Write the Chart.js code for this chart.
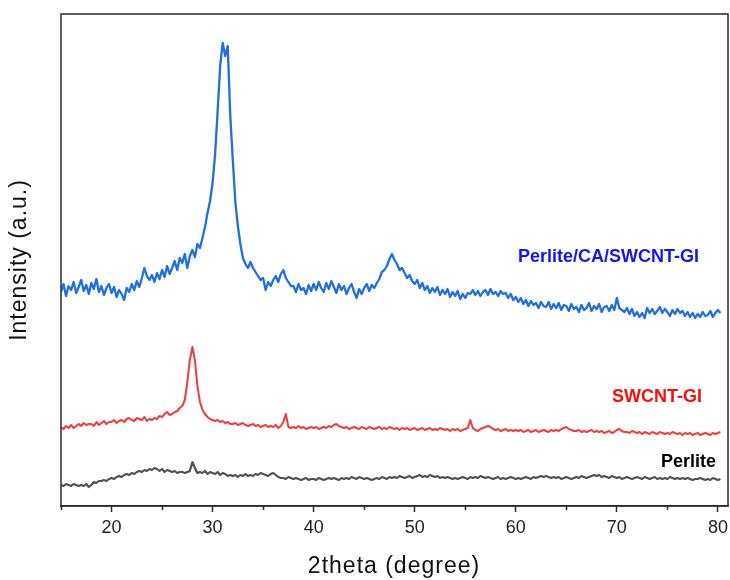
<!DOCTYPE html>
<html>
<head>
<meta charset="utf-8">
<script src="https://cdn.jsdelivr.net/npm/chart.js@4/dist/chart.umd.min.js"></script>
<style>
  html, body { margin: 0; padding: 0; background: #fff; }
  canvas { display: block; }
</style>
</head>
<body>
<canvas id="xrd" width="730" height="580"></canvas>
<script>
// scan range: 15 to 80.25 degrees, one reading every 0.25 degree
const scanStart = 15;
const scanStep = 0.25;

const compositeCounts = [
  214,222,210,220, 216,224,213,219, 226,215,221,212, 223,217,227,214,
  220,211,218,222, 213,219,209,216, 212,206,218,214, 222,216,225,219,
  228,238,230,226, 231,224,233,227, 236,229,240,232, 238,245,236,248,
  243,252,238,250, 256,249,262,258, 268,279,293,305, 323,352,395,440,
  463,450,460,390, 346,304,280,262, 248,242,238,244, 238,234,230,226,
  228,216,224,220, 226,230,224,232, 236,228,224,220, 220,214,222,216,
  218,212,221,215, 222,216,224,218, 214,223,217,225, 219,213,222,216,
  220,212,218,222, 214,208,217,212, 218,222,215,221, 218,223,227,234,
  236,240,247,252, 246,242,236,238, 233,228,231,225, 222,226,218,223,
  216,220,213,218, 214,219,211,216, 212,217,209,214, 210,215,207,212,
  208,213,212,216, 211,215,210,214, 216,211,217,212, 214,210,215,212,
  213,208,212,206, 209,204,208,202, 206,200,205,201, 203,198,204,200,
  199,204,197,202, 198,203,196,201, 200,195,202,197, 199,194,201,196,
  198,203,195,200, 197,202,194,199, 200,195,201,196, 208,198,196,194,
  198,192,197,190, 194,189,193,188, 198,193,197,192, 195,199,193,197,
  194,190,196,192, 197,193,195,190, 194,189,193,188, 192,189,194,190,
  191,195,189,193, 196,193
];

const swcntCounts = [
  79,77,80,78, 81,78,80,82, 80,83,81,82, 82,80,84,81,
  83,85,82,84, 84,86,83,85, 86,84,87,88, 86,85,88,87,
  86,89,85,87, 86,88,87,90, 89,92,94,91, 92,94,95,98,
  100,106,124,146, 159,146,120,104, 96,92,89,87, 86,85,86,84,
  85,83,84,82, 82,83,81,82, 83,81,80,81, 82,80,81,79,
  80,81,79,80, 79,81,78,80, 84,92,79,78, 79,78,80,78,
  79,77,78,79, 78,79,77,78, 79,78,80,79, 81,82,80,79,
  78,79,77,78, 79,78,77,79, 78,77,79,78, 77,78,79,77,
  78,77,79,78, 77,78,76,78, 77,78,76,77, 78,76,77,78,
  76,77,78,76, 77,76,78,77, 76,77,75,77, 76,77,75,76,
  77,78,86,78, 76,75,77,78, 79,80,79,77, 76,77,75,76,
  77,75,76,75, 76,75,76,74, 75,76,74,75, 76,74,75,76,
  75,74,76,75, 76,75,77,78, 79,77,76,75, 75,76,74,75,
  74,75,76,74, 75,74,75,73, 74,75,73,74, 76,77,75,74,
  74,73,75,74, 73,74,72,74, 73,72,74,73, 72,74,73,72,
  73,72,74,73, 72,73,71,73, 72,73,71,72, 73,71,72,73,
  72,71,73,72, 73,74
];

const perliteCounts = [
  21,20,22,21, 20,22,21,20, 21,20,22,19, 21,24,23,25,
  25,26,25,27, 28,27,29,30, 29,31,32,31, 33,32,34,35,
  34,36,35,37, 36,38,37,35, 37,34,36,35, 34,35,33,34,
  34,33,34,35, 44,38,33,34, 33,35,32,34, 33,32,34,31,
  33,32,30,31, 30,31,29,31, 30,32,30,31, 30,32,31,33,
  32,31,30,32, 33,31,29,28, 28,27,29,28, 27,28,27,26,
  27,28,26,27, 27,26,28,27, 26,27,28,27, 28,27,26,28,
  27,28,27,29, 28,27,29,28, 27,28,27,26, 27,28,27,29,
  28,27,29,28, 29,28,30,29, 28,29,30,28, 29,30,31,29,
  30,29,31,30, 29,30,28,29, 28,29,28,27, 28,27,28,29,
  28,27,29,28, 29,28,30,29, 28,29,28,27, 28,29,27,28,
  27,28,29,28, 27,28,27,28, 29,28,27,29, 28,29,30,29,
  30,29,28,29, 28,29,27,28, 29,28,27,28, 29,28,30,29,
  28,29,30,31, 30,31,29,30, 29,28,30,29, 28,29,27,28,
  29,28,27,28, 29,28,27,29, 28,27,28,29, 27,28,27,28,
  27,29,28,27, 28,27,28,27, 28,27,26,27, 27,28,27,26,
  27,26,28,27, 26,27
];

const xTicks = [20, 30, 40, 50, 60, 70, 80];
const xMinorTicks = [15, 25, 35, 45, 55, 65, 75];

const seriesLabels = [
  { text: 'Perlite/CA/SWCNT-GI', color: '#1414f0', x: 518, y: 257 },
  { text: 'SWCNT-GI', color: '#ff0a0a', x: 612, y: 397 },
  { text: 'Perlite', color: '#000000', x: 661, y: 462 }
];

function toPoints(values) {
  return values.map((v, i) => ({ x: scanStart + i * scanStep, y: v }));
}

const FONT = "'Liberation Sans', Arial, sans-serif";

const framePlugin = {
  id: 'frame',
  afterDraw(chart) {
    const { ctx, chartArea: a } = chart;
    const xs = chart.scales.x;
    ctx.save();
    // box around plot
    ctx.strokeStyle = '#2b2b2b';
    ctx.lineWidth = 1.5;
    ctx.strokeRect(a.left, a.top, a.right - a.left, a.bottom - a.top);
    // short minor ticks
    ctx.beginPath();
    xMinorTicks.forEach((t) => {
      const px = Math.round(xs.getPixelForValue(t)) + 0.5;
      ctx.moveTo(px, a.bottom);
      ctx.lineTo(px, a.bottom + 4);
    });
    ctx.stroke();

    // axis titles
    ctx.fillStyle = '#111';
    ctx.font = '23px ' + FONT;
    ctx.letterSpacing = '1px';
    ctx.textAlign = 'center';
    ctx.textBaseline = 'middle';
    ctx.fillText('2theta (degree)', 394, 567);
    ctx.save();
    ctx.translate(20, (a.top + a.bottom) / 2);
    ctx.rotate(-Math.PI / 2);
    ctx.fillText('Intensity (a.u.)', 0, 0);
    ctx.restore();

    // series names
    ctx.letterSpacing = '0px';
    ctx.font = 'bold 18px ' + FONT;
    ctx.textAlign = 'left';
    seriesLabels.forEach((l) => {
      ctx.fillStyle = l.color;
      ctx.fillText(l.text, l.x, l.y);
    });
    ctx.restore();
  }
};

new Chart(document.getElementById('xrd'), {
  type: 'line',
  data: {
    datasets: [
      { label: 'Perlite/CA/SWCNT-GI', data: toPoints(compositeCounts), borderColor: '#1e6fe0', borderWidth: 2.3 },
      { label: 'SWCNT-GI', data: toPoints(swcntCounts), borderColor: '#f03c3c', borderWidth: 2 },
      { label: 'Perlite', data: toPoints(perliteCounts), borderColor: '#505050', borderWidth: 2.2 }
    ]
  },
  options: {
    responsive: false,
    devicePixelRatio: 1,
    animation: false,
    parsing: false,
    layout: { padding: { left: 61, top: 14, right: 2, bottom: 0 } },
    elements: {
      point: { radius: 0 },
      line: { tension: 0, borderJoinStyle: 'round' }
    },
    plugins: {
      legend: { display: false },
      tooltip: { enabled: false }
    },
    scales: {
      x: {
        type: 'linear',
        min: 15,
        max: 81,
        afterFit(scale) {
          scale.height = 74;
          scale.paddingLeft = 0;
          scale.paddingRight = 0;
        },
        afterBuildTicks(scale) { scale.ticks = xTicks.map((v) => ({ value: v })); },
        ticks: {
          color: '#222',
          font: { family: FONT, size: 18 },
          padding: 5,
          maxRotation: 0
        },
        grid: {
          display: true,
          drawOnChartArea: false,
          drawTicks: true,
          tickLength: 6,
          tickColor: '#2b2b2b',
          tickWidth: 1.5
        },
        border: { display: true, color: '#2b2b2b', width: 1.5 }
      },
      y: {
        display: false,
        min: 0,
        max: 492
      }
    }
  },
  plugins: [framePlugin]
});
</script>
</body>
</html>
